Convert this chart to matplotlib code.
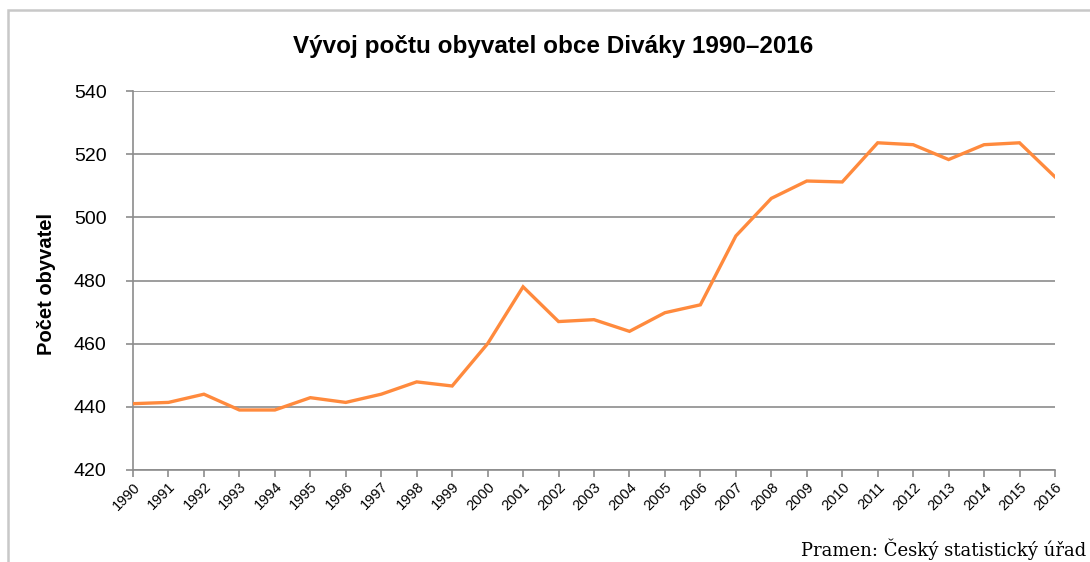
import matplotlib
matplotlib.use("Agg")
import matplotlib.pyplot as plt
from matplotlib.patches import Rectangle

years = list(range(1990, 2017))
population = [441, 441.4, 444, 439, 439, 442.9, 441.4, 444, 447.9, 446.6,
              460, 478, 467, 467.6, 463.9, 469.8, 472.3, 494.1, 506, 511.5,
              511.2, 523.6, 523, 518.3, 523, 523.6, 512.8]
year_labels = [str(y) for y in years]
y_ticks = [420, 440, 460, 480, 500, 520, 540]

title = "Vývoj počtu obyvatel obce Diváky 1990–2016"
ylabel = "Počet obyvatel"
source = "Pramen: Český statistický úřad"

W, H = 1090, 562
fig = plt.figure(figsize=(W / 100, H / 100), dpi=100)
ax = fig.add_axes([133 / W, 1 - 470 / H, (1055 - 133) / W, (470 - 91) / H])

# outer chart frame
fig.patches.append(Rectangle((8 / W, -0.2), 1.2, 1.2 - 10 / H,
                             transform=fig.transFigure, fill=False,
                             edgecolor="#c8c8c8", linewidth=1.8, zorder=0))

ax.plot(years, population, color="#ff8a3d", linewidth=2.4, solid_joinstyle="miter", zorder=3)

ax.set_xlim(1990, 2016)
ax.set_ylim(420, 540)
ax.set_yticks(y_ticks)
ax.set_yticklabels([str(v) for v in y_ticks], fontsize=14, family="Liberation Sans")
ax.set_xticks(years)
ax.set_xticklabels(year_labels, rotation=45, ha="right", va="top",
                   rotation_mode="anchor", fontsize=10.5, family="Liberation Sans")

ax.grid(axis="y", color="#8c8c8c", linewidth=1.2)
ax.set_axisbelow(True)
for s in ["top", "right"]:
    ax.spines[s].set_visible(False)
for s in ["left", "bottom"]:
    ax.spines[s].set_color("#8c8c8c")
    ax.spines[s].set_linewidth(1.2)
ax.tick_params(axis="both", color="#8c8c8c", width=1.2, length=5, direction="out")
ax.tick_params(axis="x", pad=2)
ax.tick_params(axis="y", pad=14)

fig.text(553 / W, 1 - 46 / H, title, ha="center", va="center",
         fontsize=17.5, fontweight="bold", family="Liberation Sans")
fig.text(46 / W, 1 - 284 / H, ylabel, ha="center", va="center", rotation=90,
         fontsize=14.5, fontweight="bold", family="Liberation Sans")
fig.text(1086 / W, 1 - 549 / H, source, ha="right", va="center",
         fontsize=13, family="DejaVu Serif")

fig.savefig("out.png", dpi=100)
